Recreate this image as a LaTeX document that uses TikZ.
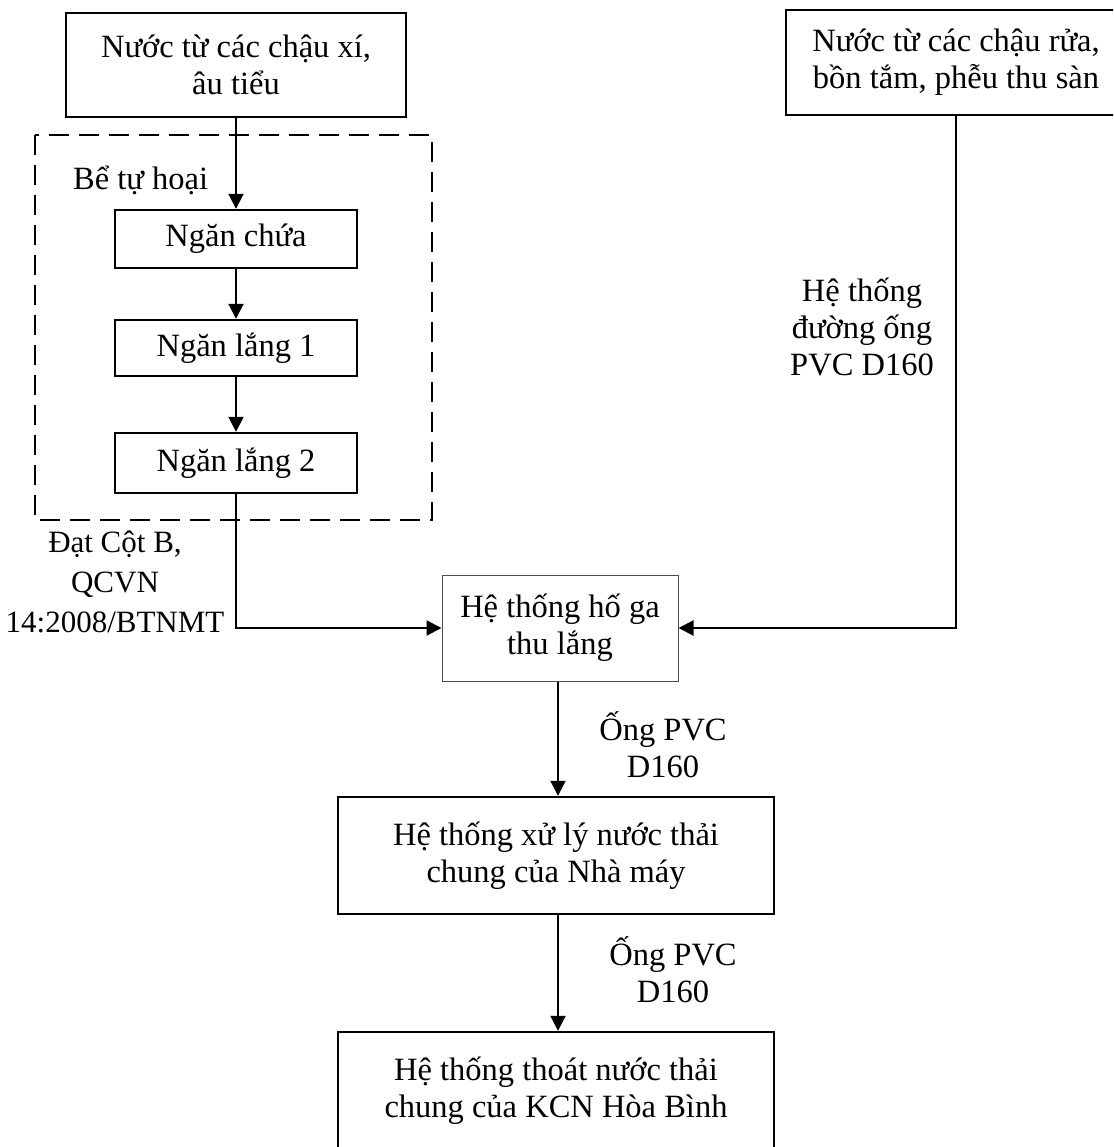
\documentclass[tikz,border=0pt]{standalone}
\usepackage{fontspec}
\setmainfont{Liberation Serif}
\usetikzlibrary{arrows.meta,calc}
\begin{document}
\begin{tikzpicture}[x=1pt,y=-1pt,
  every node/.style={font=\fontsize{32.5}{37}\selectfont, align=center, inner sep=0pt},
  box/.style={draw=black, line width=2.4pt, minimum width=#1},
  thinbox/.style={draw=black!70, line width=1pt, minimum width=#1},
  conn/.style={line width=2pt, -{Triangle[length=15pt,width=15pt]}},
  lbl/.style={}]
\useasboundingbox (0,0) rectangle (1113,1147);
\clip (0,0) rectangle (1113,1147);
\fill[white] (0,0) rectangle (1113,1147);
% nodes
\node[box=340, minimum height=104] (src1) at (236,65) {Nước từ các chậu xí,\\âu tiểu};
\node[box=340, minimum height=105] (src2) at (956,62.5) {Nước từ các chậu rửa,\\bồn tắm, phễu thu sàn};
\node[box=242, minimum height=58] (chua) at (236,239) {Ngăn chứa};
\node[box=242, minimum height=56] (lang1) at (236,348) {Ngăn lắng 1};
\node[box=242, minimum height=60] (lang2) at (236,463) {Ngăn lắng 2};
\draw[line width=2.2pt, dash pattern=on 20pt off 10pt] (35,135) rectangle (432,520);
\node[lbl, anchor=west] (bth) at (73,180) {Bể tự hoại};
\node[lbl, font=\fontsize{31}{37}\selectfont] (dat) at (115,582) {Đạt Cột B,\\[3pt]QCVN\\[3pt]14:2008/BTNMT};
\node[lbl] (ht) at (862,327) {Hệ thống\\đường ống\\PVC D160};
\node[thinbox=236, minimum height=106] (hoga) at (560,628) {Hệ thống hố ga\\thu lắng};
\node[box=436, minimum height=117] (xl) at (556,855.5) {Hệ thống xử lý nước thải\\chung của Nhà máy};
\node[box=436, minimum height=118] (kcn) at (556,1091) {Hệ thống thoát nước thải\\chung của KCN Hòa Bình};
\node[lbl] (p1) at (663,745) {Ống PVC\\D160};
\node[lbl] (p2) at (673,970) {Ống PVC\\D160};
% connectors
\draw[conn] (src1.south) -- (chua.north);
\draw[conn] (chua.south) -- (lang1.north);
\draw[conn] (lang1.south) -- (lang2.north);
\draw[conn] (lang2.south) |- (hoga.west);
\draw[conn] (src2.south) |- (hoga.east);
\draw[conn] (hoga.south -| 558,0) -- (xl.north -| 558,0);
\draw[conn] (xl.south -| 558,0) -- (kcn.north -| 558,0);
\end{tikzpicture}
\end{document}
